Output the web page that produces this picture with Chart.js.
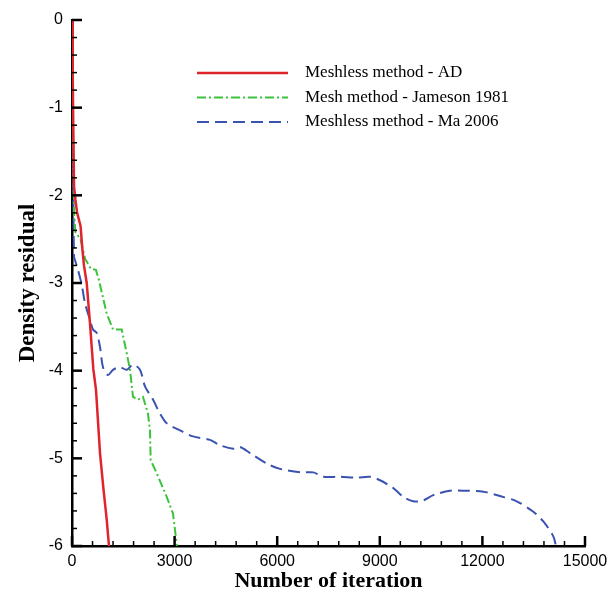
<!DOCTYPE html>
<html>
<head>
<meta charset="utf-8">
<script src="https://cdn.jsdelivr.net/npm/chart.js@4.4.1/dist/chart.umd.min.js"></script>
<style>
  html, body { margin: 0; padding: 0; background: #fff; }
  #wrap { width: 615px; height: 595px; }
</style>
</head>
<body>
<div id="wrap"><canvas id="residualChart" width="615" height="595"></canvas></div>
<script>
// --- Data ---
const adIter  = [0, 20, 40, 60, 100, 150, 250, 300, 350, 430, 526, 623, 702, 819, 915, 1015, 1082];
const adRes   = [0, -0.6, -1.3, -1.9, -2.05, -2.2, -2.35, -2.6, -2.8, -3.0, -3.46, -3.98, -4.22, -4.94, -5.33, -5.7, -6.0];

const jamIter = [0, 30, 60, 100, 250, 380, 550, 700, 790, 1015, 1200, 1453, 1600, 1696, 1784, 1930, 2076, 2222, 2280, 2300, 2477, 2770, 2953, 3012, 3070];
const jamRes  = [0, -1.2, -2.2, -2.42, -2.5, -2.72, -2.84, -2.85, -2.97, -3.35, -3.53, -3.53, -3.8, -3.99, -4.3, -4.33, -4.3, -4.49, -4.68, -5.02, -5.17, -5.44, -5.63, -5.82, -6.0];

const maIter  = [0, 20, 40, 60, 88, 175, 284, 380, 526, 614, 722, 819, 906, 1053, 1200, 1404, 1600, 1784, 1988, 2135, 2368, 2573, 2769, 3158, 3538, 4035, 4327, 4717, 4912, 5205, 5693, 6082, 6667, 7057, 7349, 7836, 8324, 8714, 9006, 9396, 9688, 9980, 10273, 10565, 11053, 11540, 12028, 12515, 13002, 13490, 13782, 14074, 14150];
const maRes   = [0, -1.0, -2.0, -2.7, -2.74, -2.85, -3.02, -3.23, -3.42, -3.53, -3.57, -3.73, -3.96, -4.05, -3.99, -3.96, -3.99, -3.93, -3.99, -4.18, -4.33, -4.49, -4.6, -4.68, -4.75, -4.79, -4.85, -4.89, -4.87, -4.94, -5.06, -5.12, -5.16, -5.16, -5.21, -5.21, -5.22, -5.21, -5.25, -5.34, -5.44, -5.49, -5.48, -5.42, -5.37, -5.37, -5.38, -5.43, -5.49, -5.61, -5.72, -5.89, -6.0];

const seriesNames = ['Meshless method - AD', 'Mesh method - Jameson 1981', 'Meshless method - Ma 2006'];
const xTicks = [0, 3000, 6000, 9000, 12000, 15000];
const yTicks = [0, -1, -2, -3, -4, -5, -6];

const pts = (xs, ys) => xs.map((x, i) => ({ x: x, y: ys[i] }));

// inside-pointing ticks, tecplot style
const insideTicks = {
    id: 'insideTicks',
    afterDatasetsDraw(chart) {
        const { ctx, chartArea: a, scales: { x, y } } = chart;
        ctx.save();
        ctx.strokeStyle = '#000';
        for (let v = 0; v <= 15000; v += 600) {
            const px = x.getPixelForValue(v);
            const major = v % 3000 === 0;
            ctx.lineWidth = major ? 2.5 : 1.5;
            ctx.beginPath();
            ctx.moveTo(px, a.bottom);
            ctx.lineTo(px, a.bottom - (major ? 10 : 5));
            ctx.stroke();
        }
        for (let k = 0; k <= 30; k++) {
            const py = y.getPixelForValue(-k * 0.2);
            const major = k % 5 === 0;
            ctx.lineWidth = major ? 2.5 : 1.5;
            ctx.beginPath();
            ctx.moveTo(a.left, py);
            ctx.lineTo(a.left + (major ? 10 : 5), py);
            ctx.stroke();
        }
        ctx.restore();
    }
};

// legend box drawn like the original (line sample + serif text)
const lineLegend = {
    id: 'lineLegend',
    afterDraw(chart) {
        const ctx = chart.ctx;
        ctx.save();
        chart.data.datasets.forEach((ds, i) => {
            const yy = 73 + i * 24.5;
            ctx.strokeStyle = ds.borderColor;
            ctx.lineWidth = ds.borderWidth;
            ctx.setLineDash(ds.borderDash || []);
            ctx.beginPath();
            ctx.moveTo(197, yy);
            ctx.lineTo(288, yy);
            ctx.stroke();
            ctx.setLineDash([]);
            ctx.fillStyle = '#000';
            ctx.font = '17px "Liberation Serif", "Times New Roman", serif';
            ctx.textBaseline = 'middle';
            ctx.fillText(ds.label, 305, yy);
        });
        ctx.restore();
    }
};

new Chart(document.getElementById('residualChart'), {
    type: 'line',
    data: {
        datasets: [
            { label: seriesNames[0], data: pts(adIter, adRes), borderColor: '#e0242c', borderWidth: 2.5, pointRadius: 0, tension: 0 },
            { label: seriesNames[1], data: pts(jamIter, jamRes), borderColor: '#3cc23c', borderWidth: 2, borderDash: [9, 3, 2, 3], pointRadius: 0, tension: 0 },
            { label: seriesNames[2], data: pts(maIter, maRes), borderColor: '#3a52b0', borderWidth: 2, borderDash: [12, 6], pointRadius: 0, tension: 0.3 }
        ]
    },
    options: {
        responsive: false,
        animation: false,
        layout: { padding: { top: 20, right: 30, left: 0, bottom: 0 } },
        plugins: { legend: { display: false }, tooltip: { enabled: false } },
        scales: {
            x: {
                type: 'linear', min: 0, max: 15000,
                afterBuildTicks: s => { s.ticks = xTicks.map(v => ({ value: v })); },
                afterFit: s => { s.height = 49; },
                grid: { display: false, drawTicks: false },
                border: { display: true, color: '#000', width: 2.5 },
                ticks: { color: '#000', padding: 6, maxRotation: 0, autoSkip: false,
                         callback: v => String(v),
                         font: { family: '"Liberation Sans", Arial, sans-serif', size: 16 } },
                title: { display: true, text: 'Number of iteration', color: '#000', padding: { top: 0, bottom: 0 },
                         font: { family: '"Liberation Serif", "Times New Roman", serif', size: 22, weight: 'bold' } }
            },
            y: {
                type: 'linear', min: -6, max: 0,
                afterBuildTicks: s => { s.ticks = yTicks.map(v => ({ value: v })); },
                afterFit: s => { s.width = 72; },
                grid: { display: false, drawTicks: false },
                border: { display: true, color: '#000', width: 2.5 },
                ticks: { color: '#000', padding: 9, autoSkip: false,
                         callback: v => String(v),
                         font: { family: '"Liberation Sans", Arial, sans-serif', size: 16 } },
                title: { display: true, text: 'Density residual', color: '#000', padding: { top: 14, bottom: 0 },
                         font: { family: '"Liberation Serif", "Times New Roman", serif', size: 23, weight: 'bold' } }
            }
        }
    },
    plugins: [insideTicks, lineLegend]
});
</script>
</body>
</html>
